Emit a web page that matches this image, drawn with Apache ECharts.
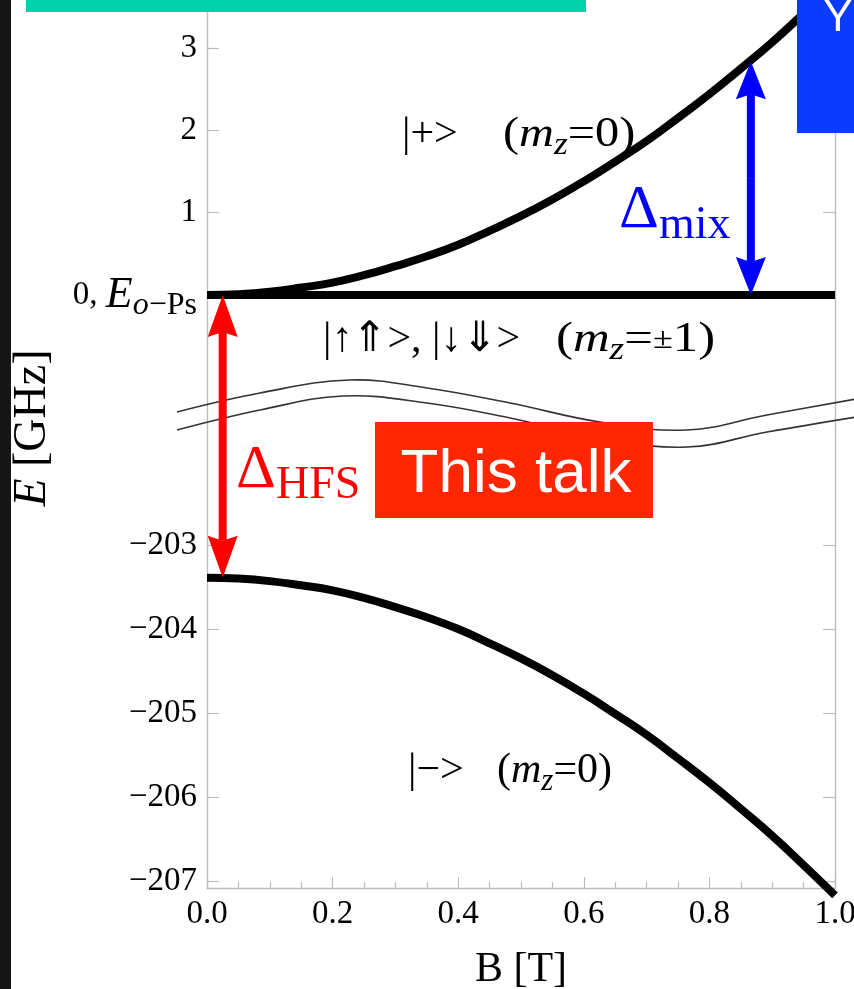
<!DOCTYPE html>
<html><head><meta charset="utf-8">
<script src="https://cdn.jsdelivr.net/npm/echarts@6/dist/echarts.min.js"></script>
<style>html,body{margin:0;padding:0;background:#fff}#c{width:854px;height:989px}</style>
</head><body><div id="c"></div>
<script>
// ---- data ----
const fieldB = [0, 0.05, 0.1, 0.15, 0.2, 0.25, 0.3, 0.35, 0.4, 0.45, 0.5, 0.55, 0.6, 0.65, 0.7, 0.75, 0.8, 0.85, 0.9, 0.95, 1.0];
const energyPlus = [0, 0.01, 0.04, 0.09, 0.15, 0.24, 0.35, 0.47, 0.61, 0.78, 0.96, 1.16, 1.38, 1.62, 1.87, 2.15, 2.44, 2.75, 3.07, 3.42, 3.78];
const energyMinus = [-203.39, -203.40, -203.43, -203.48, -203.54, -203.63, -203.74, -203.86, -204.00, -204.17, -204.35, -204.55, -204.77, -205.01, -205.26, -205.54, -205.83, -206.14, -206.46, -206.81, -207.17];
const orthoB = [0, 1];
const orthoE = [0, 0];
const upperTicks = [1, 2, 3];
const upperLabels = [0, 1, 2, 3];
const lowerTicks = [-207, -206, -205, -204, -203];
const paraEnergy = -203.39;
const lowerLabels = [-207, -206, -205, -204, -203, paraEnergy];
const xTickLabels = ['0.0', '0.2', '0.4', '0.6', '0.8', '1.0'];
const mixArrowB = 0.866;
const mixArrowTop = 2.84;
const hfsArrowB = 0.025;

// ---- axis ranges (broken axis) ----
const upperMin = -1.64, upperMax = 3.583;
const lowerMin = -207.083, lowerMax = -201.631;

const SERIF = 'Liberation Serif';
const SANS = 'Liberation Sans';
const AX = '#bdbdbd';

const zip = (a, b) => a.map((v, i) => [v, b[i]]);

function arrowRenderer(color, headLen, headHalf, shaft, notch) {
  return function (params, api) {
    const tip = api.coord([api.value(0), api.value(1)]);
    const tail = api.coord([api.value(0), api.value(2)]);
    const dir = tail[1] > tip[1] ? 1 : -1;
    const baseY = tip[1] + dir * headLen;
    const notchY = baseY - dir * notch;
    return {
      type: 'group',
      children: [
        { type: 'line', shape: { x1: tip[0], y1: notchY, x2: tail[0], y2: tail[1] },
          style: { stroke: color, lineWidth: shaft } },
        { type: 'polygon', shape: { points: [[tip[0], tip[1]], [tip[0] + headHalf, baseY], [tip[0], notchY], [tip[0] - headHalf, baseY]] },
          style: { fill: color } }
      ]
    };
  };
}

const labelRich = {
  n: { fontSize: 33, fontFamily: SERIF, color: '#000', lineHeight: 54 },
  E: { fontSize: 44, fontFamily: SERIF, fontStyle: 'italic', color: '#000', lineHeight: 54 },
  s: { fontSize: 32, fontFamily: SERIF, fontStyle: 'italic', color: '#000', verticalAlign: 'bottom' },
  r: { fontSize: 32, fontFamily: SERIF, color: '#000', verticalAlign: 'bottom' }
};

const mzRich = {
  r: { fontSize: 42, fontFamily: SERIF, color: '#000', lineHeight: 52 },
  i: { fontSize: 42, fontFamily: SERIF, fontStyle: 'italic', color: '#000', lineHeight: 52 },
  s: { fontSize: 31, fontFamily: SERIF, fontStyle: 'italic', color: '#000', verticalAlign: 'bottom' },
  pm: { fontSize: 30, fontFamily: SERIF, color: '#000', verticalAlign: 'middle' }
};

function yAxisBase(grid, pos, min, max, ticks) {
  return {
    type: 'value', gridIndex: grid, position: pos, min: min, max: max,
    axisLine: { show: true, onZero: false, lineStyle: { color: AX, width: 1.4 } },
    axisTick: { show: true, inside: true, length: 12, customValues: ticks, lineStyle: { color: AX, width: 1.2 } },
    splitLine: { show: false },
    axisLabel: { show: false }
  };
}

const y0 = yAxisBase(0, 'left', upperMin, upperMax, upperTicks);
y0.axisLabel = {
  show: true, customValues: upperLabels, margin: 10, fontFamily: SERIF, fontSize: 33, color: '#000',
  formatter: v => v === 0 ? '{n|0, }{E|E}{s|o}{r|\u2212Ps}' : String(v),
  rich: labelRich
};
const y1 = yAxisBase(0, 'right', upperMin, upperMax, upperTicks);
const y2 = yAxisBase(1, 'left', lowerMin, lowerMax, lowerTicks);
y2.axisLabel = {
  show: true, customValues: lowerLabels, margin: 10, fontFamily: SERIF, fontSize: 33, color: '#000',
  formatter: v => Math.abs(v - paraEnergy) < 1e-6 ? '{E|E}{s|p}{r|\u2212Ps}' : '\u2212' + Math.abs(v),
  rich: labelRich
};
const y3 = yAxisBase(1, 'right', lowerMin, lowerMax, lowerTicks);

const chart = echarts.init(document.getElementById('c'), null, { renderer: 'canvas' });

const waveUpper = [[177, 412], [260, 393], [350, 380], [427, 388], [510, 403], [600, 422], [687, 430], [767, 415], [856, 399]];
const waveLower = [[177, 430], [260, 410], [343, 396], [427, 403], [510, 418], [600, 438], [687, 447], [767, 432], [856, 417]];

chart.setOption({
  animation: false,
  backgroundColor: '#ffffff',
  grid: [
    { left: 207, right: 19, top: 0, height: 430, outerBoundsMode: 'none', containLabel: false },
    { left: 207, right: 19, top: 430, bottom: 101, outerBoundsMode: 'none', containLabel: false }
  ],
  xAxis: [
    { type: 'value', gridIndex: 0, min: 0, max: 1, show: false },
    {
      type: 'value', gridIndex: 1, min: 0, max: 1, interval: 0.2,
      axisLine: { show: true, onZero: false, lineStyle: { color: AX, width: 1.4 } },
      axisTick: { show: true, inside: true, length: 11, lineStyle: { color: AX, width: 1.2 } },
      minorTick: { show: true, splitNumber: 4, length: 6, lineStyle: { color: AX, width: 1.2 } },
      splitLine: { show: false },
      axisLabel: { margin: 10, fontFamily: SERIF, fontSize: 33, color: '#000',
        formatter: v => xTickLabels[Math.round(v / 0.2)] },
      name: 'B [T]', nameLocation: 'middle', nameGap: 61,
      nameTextStyle: { fontFamily: SERIF, fontSize: 42, color: '#000' }
    }
  ],
  yAxis: [y0, y1, y2, y3],
  series: [
    { type: 'line', xAxisIndex: 0, yAxisIndex: 0, data: zip(fieldB, energyPlus), smooth: true, showSymbol: false, silent: true,
      lineStyle: { color: '#000', width: 8 } },
    { type: 'line', xAxisIndex: 0, yAxisIndex: 0, data: zip(orthoB, orthoE), showSymbol: false, silent: true,
      lineStyle: { color: '#000', width: 8 } },
    { type: 'line', xAxisIndex: 1, yAxisIndex: 2, data: zip(fieldB, energyMinus), smooth: true, showSymbol: false, silent: true, clip: false,
      lineStyle: { color: '#000', width: 8 } },
    { type: 'custom', xAxisIndex: 0, yAxisIndex: 0, clip: false, silent: true, z: 5,
      renderItem: arrowRenderer('#0000ff', 38, 15, 8, 5),
      encode: { x: 0, y: [1, 2] },
      data: [[mixArrowB, mixArrowTop, mixArrowTop / 2], [mixArrowB, 0, mixArrowTop / 2]] },
    { type: 'custom', xAxisIndex: 0, yAxisIndex: 0, clip: false, silent: true, z: 5,
      renderItem: arrowRenderer('#ff0000', 42, 15, 8, 5),
      encode: { x: 0, y: [1, 2] },
      data: [[hfsArrowB, 0, upperMin]] },
    { type: 'custom', xAxisIndex: 1, yAxisIndex: 2, clip: false, silent: true, z: 5,
      renderItem: arrowRenderer('#ff0000', 42, 15, 8, 5),
      encode: { x: 0, y: [1, 2] },
      data: [[hfsArrowB, paraEnergy, lowerMax]] }
  ],
  graphic: [
    { type: 'polyline', z: 1, shape: { points: waveUpper, smooth: 0.4 }, style: { stroke: '#333', lineWidth: 1.6, fill: null } },
    { type: 'polyline', z: 1, shape: { points: waveLower, smooth: 0.4 }, style: { stroke: '#333', lineWidth: 1.6, fill: null } },
    { type: 'text', x: 33, y: 428, rotation: Math.PI / 2, style: {
        text: '{i|E}{r| [GHz]}', align: 'center', verticalAlign: 'middle',
        rich: { i: { fontSize: 46, fontFamily: SERIF, fontStyle: 'italic', fill: '#000' }, r: { fontSize: 46, fontFamily: SERIF, fill: '#000' } } } },
    // state labels
    { type: 'text', x: 402, y: 135, style: { text: '|+>', fontSize: 42, fontFamily: SERIF, fill: '#000', verticalAlign: 'middle' } },
    { type: 'text', x: 503, y: 135, scaleX: 1.15, style: { text: '{r|(}{i|m}{s|z}{r|=0)}', rich: mzRich, verticalAlign: 'middle' } },
    { type: 'text', x: 323, y: 340, style: { text: '|\u2191\u21D1>, |\u2193\u21D3>', fontSize: 42, fontFamily: SERIF, fill: '#000', verticalAlign: 'middle' } },
    { type: 'text', x: 556, y: 340, scaleX: 1.21, style: { text: '{r|(}{i|m}{s|z}{r|=}{pm|\u00B1}{r|1)}', rich: mzRich, verticalAlign: 'middle' } },
    { type: 'text', x: 408, y: 771, style: { text: '|\u2212>', fontSize: 42, fontFamily: SERIF, fill: '#000', verticalAlign: 'middle' } },
    { type: 'text', x: 497, y: 771, style: { text: '{r|(}{i|m}{s|z}{r|=0)}', rich: mzRich, verticalAlign: 'middle' } },
    // Delta labels
    { type: 'text', x: 619, y: 211, style: { text: '\u0394', fontSize: 62, fontFamily: SERIF, fill: '#0000ff', verticalAlign: 'middle' } },
    { type: 'text', x: 659, y: 226, style: { text: 'mix', fontSize: 46, fontFamily: SERIF, fill: '#0000ff', verticalAlign: 'middle' } },
    { type: 'text', x: 236, y: 471, style: { text: '\u0394', fontSize: 62, fontFamily: SERIF, fill: '#ff0000', verticalAlign: 'middle' } },
    { type: 'text', x: 276, y: 486, style: { text: 'HFS', fontSize: 46, fontFamily: SERIF, fill: '#ff0000', verticalAlign: 'middle' } },
    // overlay boxes
    { type: 'rect', z: 100, shape: { x: 375, y: 422, width: 278, height: 96 }, style: { fill: '#ff2600' } },
    { type: 'text', z: 101, x: 516, y: 475, style: { text: 'This talk', fontSize: 62, fontFamily: SANS, fill: '#ffffff', align: 'center', verticalAlign: 'middle' } },
    { type: 'rect', z: 100, shape: { x: 26, y: 0, width: 560, height: 12 }, style: { fill: '#00d2ab' } },
    { type: 'rect', z: 100, shape: { x: 797, y: 0, width: 57, height: 133 }, style: { fill: '#0a3bff' } },
    { type: 'text', z: 101, x: 838, y: 41, style: { text: 'Y', fontSize: 44, fontFamily: SANS, fill: '#ffffff', align: 'center', verticalAlign: 'bottom' } },
    { type: 'rect', z: 100, shape: { x: 0, y: 0, width: 11, height: 989 }, style: { fill: '#161616' } }
  ]
});
</script>
</body></html>
